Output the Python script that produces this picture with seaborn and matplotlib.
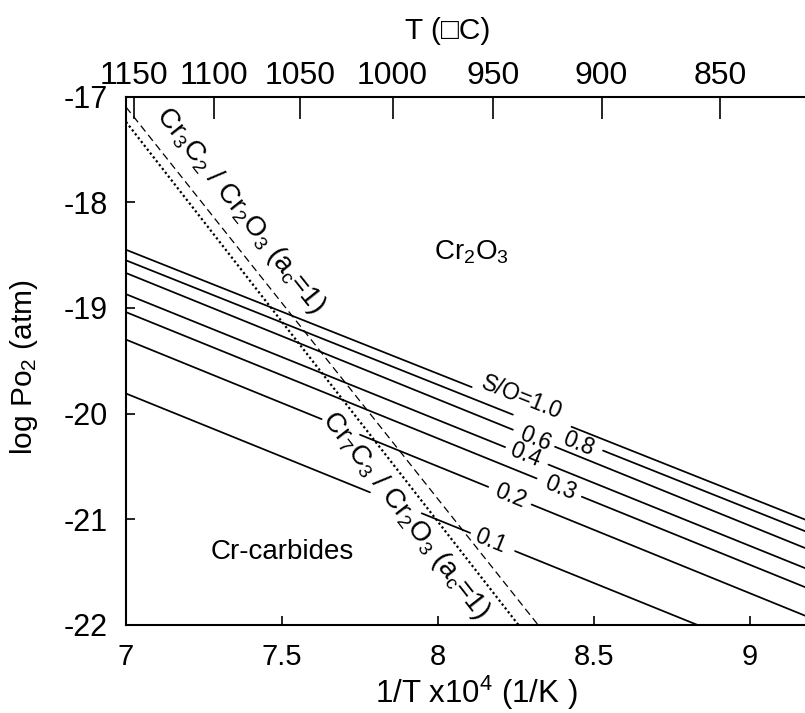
import numpy as np
import pandas as pd
import matplotlib
matplotlib.use("Agg")
import matplotlib.pyplot as plt
import seaborn as sns

# S/O ratio isopleths: log pO2 at both ends of the 1/T range
so_labels = ["S/O=1.0", "0.8", "0.6", "0.4", "0.3", "0.2", "0.1"]
inv_t_ends = [7.0, 9.2]
logpo2_left = [-18.45, -18.55, -18.67, -18.87, -19.04, -19.30, -19.81]
logpo2_right = [-21.03, -21.14, -21.30, -21.49, -21.67, -21.94, -22.44]

# carbide / oxide equilibria at unit carbon activity
cr3c2_inv_t = [7.0, 8.321]
cr3c2_logpo2 = [-17.10, -22.0]
cr7c3_inv_t = [7.0, 8.258]
cr7c3_logpo2 = [-17.24, -22.0]

# axis ticks
x_ticks = [7, 7.5, 8, 8.5, 9]
x_ticklabels = ["7", "7.5", "8", "8.5", "9"]
y_ticks = [-22, -21, -20, -19, -18, -17]
y_ticklabels = ["-22", "-21", "-20", "-19", "-18", "-17"]
temps_c = [1150, 1100, 1050, 1000, 950, 900, 850]

# where each isopleth is broken to make room for its label (1/T intervals)
line_breaks = [
    [(8.108, 8.428)],
    [(8.240, 8.529)],
    [(8.240, 8.375)],
    [(8.215, 8.354)],
    [(8.316, 8.461)],
    [(7.627, 7.750), (8.161, 8.300)],
    [(7.782, 7.948), (8.103, 8.247)],
]
label_x = [8.268, 8.449, 8.311, 8.279, 8.391, 8.231, 8.167]
label_dy = [0.09, -0.03, 0.0, 0.0, 0.0, 0.0, 0.0]

sns.set_style("ticks")
plt.rcParams["font.family"] = ["Liberation Sans", "DejaVu Sans"]
plt.rcParams["mathtext.default"] = "regular"
plt.rcParams["axes.unicode_minus"] = False
for key in ("text.color", "axes.labelcolor", "axes.edgecolor",
            "xtick.color", "ytick.color", "xtick.labelcolor", "ytick.labelcolor"):
    plt.rcParams[key] = "black"

W, H = 805, 713
fig = plt.figure(figsize=(W / 100, H / 100), dpi=100)
x0_px, x1_px, ytop_px, ybot_px = 126, 812.4, 96.5, 625
ax = fig.add_axes([x0_px / W, (H - ybot_px) / H, (x1_px - x0_px) / W,
                   (ybot_px - ytop_px) / H])
ax.set_xlim(7, 9.2)
ax.set_ylim(-22, -17)

# isopleth segments
rows = []
seg = 0
for i, (yl, yr) in enumerate(zip(logpo2_left, logpo2_right)):
    edges = [inv_t_ends[0]]
    for a, b in line_breaks[i]:
        edges += [a, b]
    edges.append(inv_t_ends[1])
    for k in range(0, len(edges), 2):
        for xv in (edges[k], edges[k + 1]):
            rows.append({"x": xv, "y": float(np.interp(xv, inv_t_ends, [yl, yr])), "seg": seg})
        seg += 1
iso = pd.DataFrame(rows)
sns.lineplot(data=iso, x="x", y="y", units="seg", estimator=None, sort=False,
             color="black", lw=1.25, legend=False, ax=ax)

sns.lineplot(x=cr3c2_inv_t, y=cr3c2_logpo2, color="black", lw=0.9,
             linestyle=(0, (6, 3.5)), ax=ax)
sns.lineplot(x=cr7c3_inv_t, y=cr7c3_logpo2, color="black", lw=1.6,
             linestyle=(0, (1, 1.2)), ax=ax)


def screen_angle(xs, ys):
    p0 = ax.transData.transform((xs[0], ys[0]))
    p1 = ax.transData.transform((xs[1], ys[1]))
    return np.degrees(np.arctan2(p1[1] - p0[1], p1[0] - p0[0]))


for i, lab in enumerate(so_labels):
    yv = [logpo2_left[i], logpo2_right[i]]
    ang = screen_angle(inv_t_ends, yv)
    ly = float(np.interp(label_x[i], inv_t_ends, yv)) + label_dy[i]
    ax.text(label_x[i], ly, lab, rotation=ang, rotation_mode="anchor",
            ha="center", va="center", fontsize=16.5)

ax.text(7.365, -18.074, r"Cr$_3$C$_2$ / Cr$_2$O$_3$ (a$_c$=1)",
        rotation=screen_angle(cr3c2_inv_t, cr3c2_logpo2), rotation_mode="anchor",
        ha="center", va="center", fontsize=20)
ax.text(7.894, -20.96, r"Cr$_7$C$_3$ / Cr$_2$O$_3$ (a$_c$=1)",
        rotation=screen_angle(cr7c3_inv_t, cr7c3_logpo2), rotation_mode="anchor",
        ha="center", va="center", fontsize=20)

ax.text(8.106, -18.47, r"Cr$_2$O$_3$", ha="center", va="center", fontsize=20)
ax.text(7.5, -21.31, "Cr-carbides", ha="center", va="center", fontsize=20)

ax.set_xticks(x_ticks)
ax.set_xticklabels(x_ticklabels)
ax.set_yticks(y_ticks)
ax.set_yticklabels(y_ticklabels)
ax.tick_params(direction="in", length=6.5, width=1.2, labelsize=21, pad=13)
ax.tick_params(axis="y", labelsize=22)
for s in ("left", "bottom", "top"):
    ax.spines[s].set_linewidth(1.5)
ax.spines["right"].set_visible(False)

ax.set_xlabel("1/T x10$^4$ (1/K )", fontsize=22.5)
ax.xaxis.set_label_coords(0.511, -0.093)
ax.set_ylabel("log Po$_2$ (atm)", fontsize=21.5)
ax.yaxis.set_label_coords(-0.125, 0.487)

# temperature scale along the top
ax2 = ax.twiny()
ax2.set_xlim(ax.get_xlim())
ax2.set_xticks([1e4 / (t + 273.15) for t in temps_c])
ax2.set_xticklabels([str(t) for t in temps_c])
ax2.tick_params(direction="in", length=16, width=1.2, labelsize=23, pad=4)
for s in ax2.spines.values():
    s.set_visible(False)
ax2.set_xlabel("T (\u25a1C)", fontsize=21.5)
ax2.xaxis.set_label_coords(0.469, 1.108)

fig.savefig("out.png", dpi=100)
